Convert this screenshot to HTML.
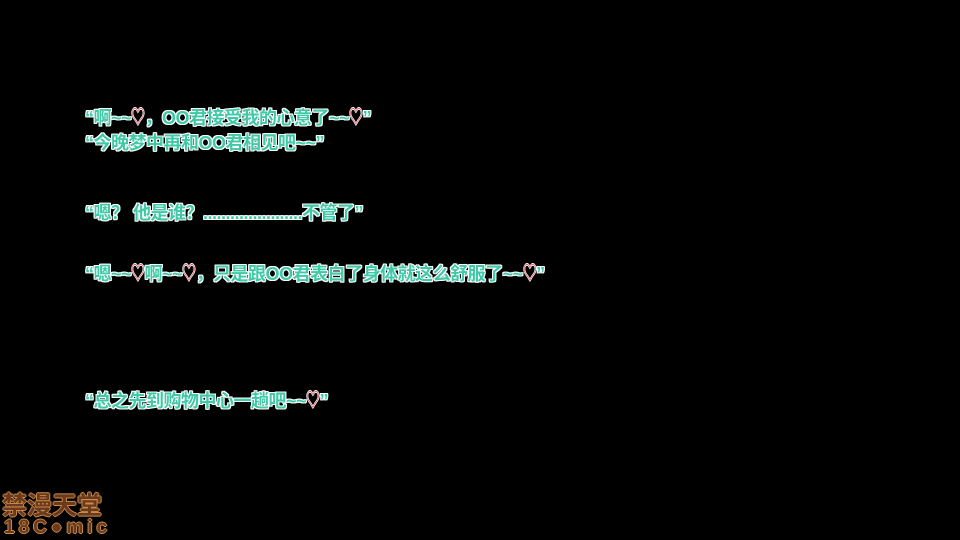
<!DOCTYPE html>
<html><head><meta charset="utf-8"><style>
body{margin:0;width:960px;height:540px;background:#000;overflow:hidden;position:relative}
.t{position:absolute;left:85px;font:bold 18px "Liberation Sans","Noto Sans CJK SC",sans-serif;color:#3fc9a6;white-space:nowrap;letter-spacing:-0.5px;
text-shadow:1px 0 #fff,-1px 0 #fff,0 1px #fff,0 -1px #fff,1px 1px #fff,-1px -1px #fff,1px -1px #fff,-1px 1px #fff;}
.h{color:#d9505a;font-size:20px;display:inline-block;transform:scaleX(0.7);margin:0 -3px;text-shadow:1px 0 #fff,-1px 0 #fff,0 1px #fff,0 -1px #fff}
.logo{position:absolute;left:2px;top:490px;font:bold 25px "Noto Sans CJK SC",sans-serif;color:#6b3a1c;
text-shadow:1px 0 #c98a4a,-1px 0 #c98a4a,0 1px #c98a4a,0 -1px #c98a4a;line-height:28px}
.logo2{position:absolute;left:4px;top:517px;font:bold 19px "Liberation Sans",sans-serif;color:#6b3a1c;letter-spacing:4px;
text-shadow:1px 0 #c98a4a,-1px 0 #c98a4a,0 1px #c98a4a,0 -1px #c98a4a}
</style></head><body>
<div class="t" style="top:101px">“啊~~<span class="h">♡</span>，OO君接受我的心意了~~<span class="h">♡</span>”</div>
<div class="t" style="top:129px">“今晚梦中再和OO君相见吧~~”</div>
<div class="t" style="top:199px">“嗯？ 他是谁？......................不管了”</div>
<div class="t" style="top:257px">“嗯~~<span class="h">♡</span>啊~~<span class="h">♡</span>，只是跟OO君表白了身体就这么舒服了~~<span class="h">♡</span>”</div>
<div class="t" style="top:384px">“总之先到购物中心一趟吧~~<span class="h">♡</span>”</div>
<div class="logo">禁漫天堂</div>
<div class="logo2">18C●mic</div>
</body></html>
